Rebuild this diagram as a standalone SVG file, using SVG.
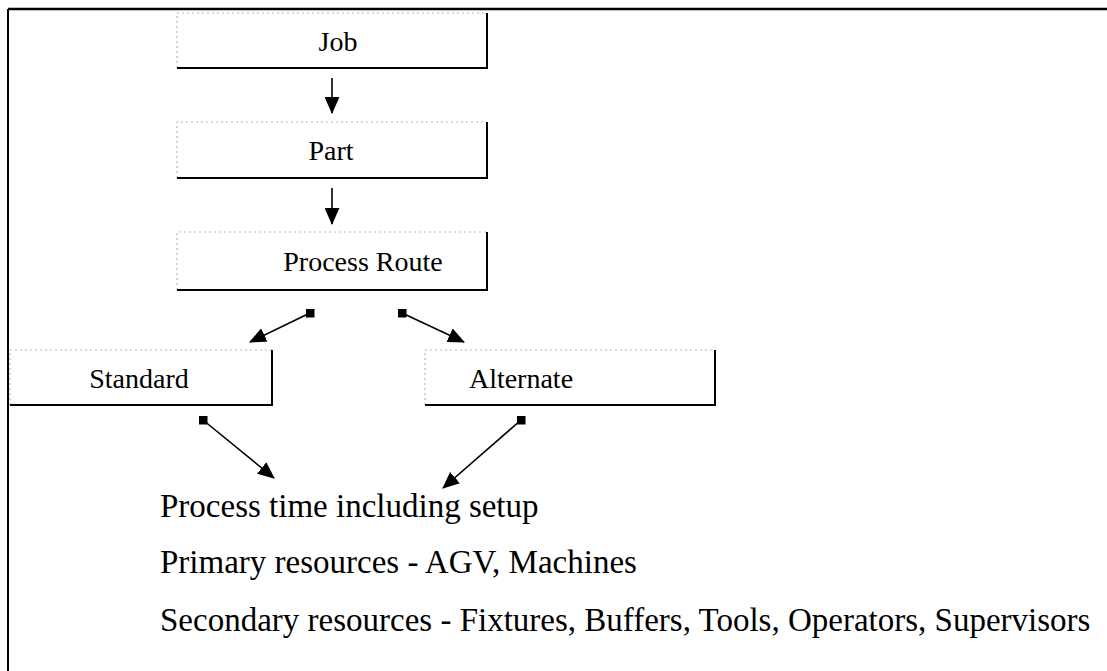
<svg xmlns="http://www.w3.org/2000/svg" width="1107" height="671" viewBox="0 0 1107 671">
  <defs>
    <marker id="head" viewBox="0 0 16 14" refX="15" refY="7" markerWidth="17" markerHeight="15" markerUnits="userSpaceOnUse" orient="auto">
      <path d="M0,0 L16,7 L0,14 Z" fill="#000"/>
    </marker>
    <marker id="sq" viewBox="0 0 10 10" refX="5" refY="5" markerWidth="9" markerHeight="9" markerUnits="userSpaceOnUse" orient="0">
      <rect x="0" y="0" width="10" height="10" fill="#000"/>
    </marker>
  </defs>
  <style>
    .lt { stroke: #b8b8b8; stroke-width: 1.2; stroke-dasharray: 2 3; fill: none; }
    .dk { stroke: #000; stroke-width: 2; fill: none; }
    .lbl { font-family: "Liberation Serif", "Times New Roman", serif; font-size: 28px; fill: #000; }
    .txt { font-family: "Liberation Serif", "Times New Roman", serif; font-size: 33px; fill: #000; }
    .conn { stroke: #000; stroke-width: 1.6; fill: none; }
  </style>
  <rect width="1107" height="671" fill="#fff"/>

  <!-- outer frame: top and left rules -->
  <g id="frame">
    <path d="M8,9 H1107" stroke="#000" stroke-width="2.4" fill="none"/>
    <path d="M8,9 V671" stroke="#000" stroke-width="2" fill="none"/>
  </g>

  <g id="job">
    <path class="lt" d="M177,68 V13 H487"/>
    <path class="dk" d="M487,13 V68 H177"/>
    <text class="lbl" x="338" y="51" text-anchor="middle">Job</text>
  </g>

  <g id="part">
    <path class="lt" d="M177,178 V122 H487"/>
    <path class="dk" d="M487,122 V178 H177"/>
    <text class="lbl" x="331" y="160" text-anchor="middle">Part</text>
  </g>

  <g id="process-route">
    <path class="lt" d="M177,290 V232 H487"/>
    <path class="dk" d="M487,232 V290 H177"/>
    <text class="lbl" x="363" y="271" text-anchor="middle">Process Route</text>
  </g>

  <g id="standard">
    <path class="lt" d="M10,405 V350 H272"/>
    <path class="dk" d="M272,350 V405 H10"/>
    <text class="lbl" x="139" y="388" text-anchor="middle">Standard</text>
  </g>

  <g id="alternate">
    <path class="lt" d="M425,405 V350 H715"/>
    <path class="dk" d="M715,350 V405 H425"/>
    <text class="lbl" x="521" y="388" text-anchor="middle">Alternate</text>
  </g>

  <g id="details">
    <text class="txt" x="160" y="517">Process time including setup</text>
    <text class="txt" x="160" y="573">Primary resources - AGV, Machines</text>
    <text class="txt" x="160" y="631">Secondary resources - Fixtures, Buffers, Tools, Operators, Supervisors</text>
  </g>

  <g id="connectors">
    <path class="conn" d="M332,78 V113" marker-end="url(#head)"/>
    <path class="conn" d="M332,188 V224" marker-end="url(#head)"/>
    <path class="conn" d="M310,313 L250,342" marker-start="url(#sq)" marker-end="url(#head)"/>
    <path class="conn" d="M402,313 L464,342" marker-start="url(#sq)" marker-end="url(#head)"/>
    <path class="conn" d="M203,420 L274,478" marker-start="url(#sq)" marker-end="url(#head)"/>
    <path class="conn" d="M521,420 L443,488" marker-start="url(#sq)" marker-end="url(#head)"/>
  </g>
</svg>
